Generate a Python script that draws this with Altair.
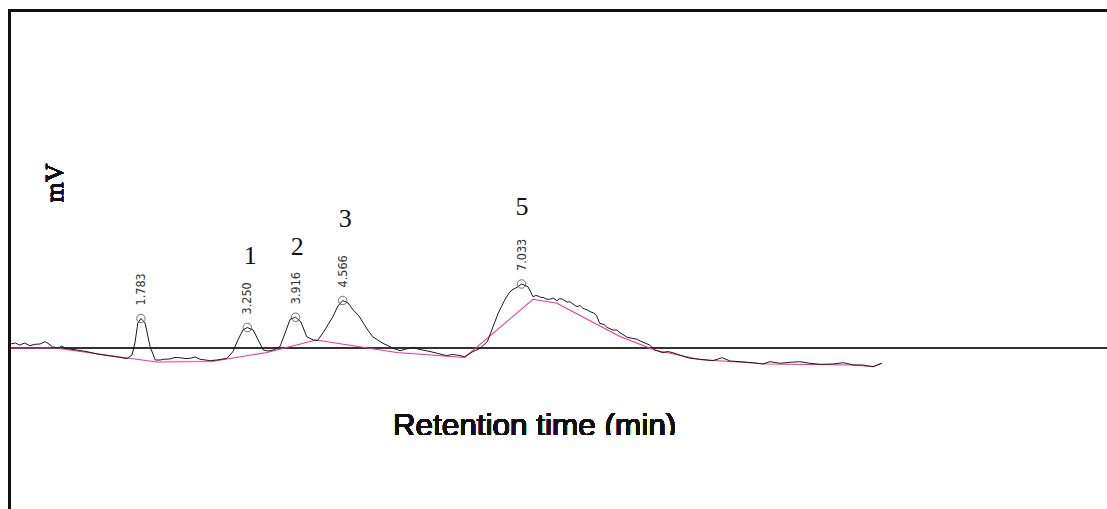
import altair as alt
import pandas as pd

# Detector trace: retention time (min) and signal (mV)
trace_time = [
    -0.02, 0.05, 0.11, 0.18, 0.25, 0.32, 0.39, 0.46, 0.50, 0.56, 0.64, 0.69, 0.74, 0.80,
    0.90, 1.04, 1.18, 1.36, 1.49, 1.59, 1.66, 1.70, 1.74, 1.783, 1.84, 1.91, 1.98, 2.05,
    2.09, 2.18, 2.25, 2.32, 2.39, 2.46, 2.53, 2.60, 2.74, 2.83, 2.97, 3.05, 3.12, 3.19,
    3.25, 3.33, 3.40, 3.47, 3.54, 3.61, 3.70, 3.77, 3.84, 3.916, 3.99, 4.07, 4.16, 4.22,
    4.32, 4.43, 4.50, 4.566, 4.64, 4.71, 4.78, 4.85, 4.91, 4.98, 5.05, 5.12, 5.22, 5.26,
    5.36, 5.44, 5.54, 5.60, 5.67, 5.77, 5.87, 6.00, 6.07, 6.14, 6.25, 6.36, 6.46, 6.56,
    6.64, 6.71, 6.80, 6.86, 6.90, 6.97, 7.033, 7.12, 7.16, 7.19, 7.23, 7.26, 7.30, 7.33,
    7.37, 7.42, 7.47, 7.52, 7.56, 7.60, 7.66, 7.70, 7.76, 7.80, 7.84, 7.88, 7.94, 7.98,
    8.03, 8.07, 8.11, 8.17, 8.21, 8.29, 8.35, 8.39, 8.49, 8.63, 8.67, 8.80, 8.87, 8.98,
    9.05, 9.12, 9.25, 9.36, 9.49, 9.67, 9.80, 9.91, 10.05, 10.22, 10.36, 10.46, 10.60,
    10.74, 10.87, 11.01, 11.15, 11.33, 11.47, 11.61, 11.74, 11.88, 12.00,
]
trace_mv = [
    0.40, 0.50, 0.30, 0.50, 0.23, 0.37, 0.40, 0.63, 0.47, 0.13, -0.03, 0.20, -0.03, -0.10,
    -0.20, -0.37, -0.60, -0.80, -0.93, -1.07, -0.70, 0.50, 2.50, 2.95, 2.50, 0.13, -1.20, -1.20,
    -1.13, -1.10, -0.95, -0.97, -1.05, -1.03, -0.90, -1.13, -1.27, -1.20, -1.03, -0.37, 0.80, 1.80,
    2.05, 1.80, 0.80, -0.20, -0.30, -0.20, 0.13, 1.47, 2.87, 3.08, 2.60, 1.13, 0.80, 0.75,
    1.80, 3.13, 4.20, 4.75, 4.50, 3.80, 3.30, 2.50, 1.80, 1.13, 0.80, 0.47, 0.13, -0.03,
    -0.27, -0.10, 0.07, -0.10, -0.20, -0.35, -0.53, -0.77, -0.65, -0.70, -0.87, -0.37, -0.03, 0.63,
    2.13, 3.47, 4.80, 5.50, 5.80, 6.07, 6.40, 6.13, 5.60, 5.13, 5.25, 5.20, 5.05, 5.07,
    4.90, 4.87, 5.00, 4.73, 4.95, 4.87, 4.60, 4.63, 4.30, 4.13, 4.25, 3.97, 3.80, 3.63,
    3.50, 3.20, 2.47, 2.35, 2.07, 1.80, 1.80, 1.53, 1.07, 0.87, 0.70, 0.30, -0.20, -0.47,
    -0.35, -0.47, -0.80, -1.03, -1.13, -1.27, -0.97, -1.30, -1.37, -1.47, -1.60, -1.37, -1.53,
    -1.43, -1.37, -1.53, -1.63, -1.60, -1.47, -1.70, -1.70, -1.87, -1.53,
]

# Integration baseline drawn between valley points
base_time = [-0.02, 0.60, 2.00, 2.76, 3.52, 4.20, 5.31, 6.25, 7.19, 7.52, 8.39, 8.87,
             9.49, 10.42, 11.61, 11.88, 12.00]
base_mv = [0.0, 0.0, -1.40, -1.35, -0.45, 0.80, -0.45, -0.95, 4.87, 4.47, 1.15, -0.20,
           -1.15, -1.60, -1.70, -1.87, -1.53]

# Detected peaks: apex time and height
peak_time = [1.783, 3.250, 3.916, 4.566, 7.033]
peak_mv = [2.95, 2.05, 3.08, 4.75, 6.40]
peak_label = ["1.783", "3.250", "3.916", "4.566", "7.033"]

# Compound numbers placed above their peaks
cmpd_label = ["1", "2", "3", "5"]
cmpd_time = [3.29, 3.94, 4.60, 7.04]
cmpd_mv = [9.2, 10.1, 12.9, 14.1]

W, H = 1107, 509
xs = alt.Scale(domain=[-0.161, 15.108], nice=False, zero=False)
ys = alt.Scale(domain=[-16.1, 34.8], nice=False, zero=False)

trace_df = pd.DataFrame({"t": trace_time, "v": trace_mv})
base_df = pd.DataFrame({"t": base_time, "v": base_mv})
peak_df = pd.DataFrame({"t": peak_time, "v": peak_mv, "label": peak_label})
cmpd_df = pd.DataFrame({"t": cmpd_time, "v": cmpd_mv, "label": cmpd_label})

X = alt.X("t:Q", scale=xs, axis=None)
Y = alt.Y("v:Q", scale=ys, axis=None)

NARROW = "'DejaVu Sans Condensed', 'Liberation Sans Narrow', 'Roboto Condensed', 'Liberation Sans'"
SERIF = "'Liberation Serif', 'DejaVu Serif', serif"

frame_top = alt.Chart(trace_df).mark_rule(color="#111111", strokeWidth=2.6).encode(
    x=alt.value(8.5), x2=alt.value(W), y=alt.value(10.4)
)
frame_left = alt.Chart(trace_df).mark_rule(color="#111111", strokeWidth=2.6).encode(
    x=alt.value(9.6), y=alt.value(9.2), y2=alt.value(H)
)
zero_line = alt.Chart(trace_df).mark_rule(color="#333333", strokeWidth=1.2).encode(
    x=alt.value(9), x2=alt.value(W), y=alt.value(348.3)
)

baseline = alt.Chart(base_df).mark_line(color="#ff2f8f", strokeWidth=1.1).encode(x=X, y=Y)
signal = alt.Chart(trace_df).mark_line(color="#1a1a1a", strokeWidth=1.0).encode(x=X, y=Y)

apex = alt.Chart(peak_df).mark_point(
    shape="circle", size=72, filled=False, color="#333333", strokeWidth=1.0
).encode(x=X, y=Y)

apex_text = alt.Chart(peak_df).mark_text(
    angle=270, align="left", baseline="middle", dx=13,
    font=NARROW, fontSize=12.5, color="#333333"
).encode(x=X, y=Y, text="label:N")

cmpd_text = alt.Chart(cmpd_df).mark_text(
    align="center", baseline="middle", font=SERIF, fontSize=26,
    fontWeight="normal", color="#111111"
).encode(x=X, y=Y, text="label:N")

y_title = alt.Chart(trace_df).mark_text(
    text="mV", angle=270, align="center", baseline="middle",
    font=SERIF, fontSize=26, fontWeight="normal", color="#111111"
).encode(x=alt.value(55), y=alt.value(183))

x_title = alt.Chart(trace_df).mark_text(
    text="Retention time (min)", align="center", baseline="alphabetic",
    font="'Liberation Sans', Arial, sans-serif", fontSize=31.5,
    fontWeight="normal", color="#111111"
).encode(x=alt.value(534.5), y=alt.value(435.5))

# white strip trimming the lower edge of the x title
x_title_mask = alt.Chart(trace_df).mark_rect(color="white").encode(
    x=alt.value(380), x2=alt.value(700), y=alt.value(435), y2=alt.value(470)
)

chart = alt.layer(
    zero_line, baseline, signal, apex, apex_text, cmpd_text, y_title, x_title,
    x_title_mask, frame_top, frame_left
).properties(
    width=W, height=H, padding=0, autosize=alt.AutoSizeParams(type="none"),
    background="white"
).configure_view(stroke=None)

chart.save("out.html", embed_options={"renderer": "svg", "actions": False})
